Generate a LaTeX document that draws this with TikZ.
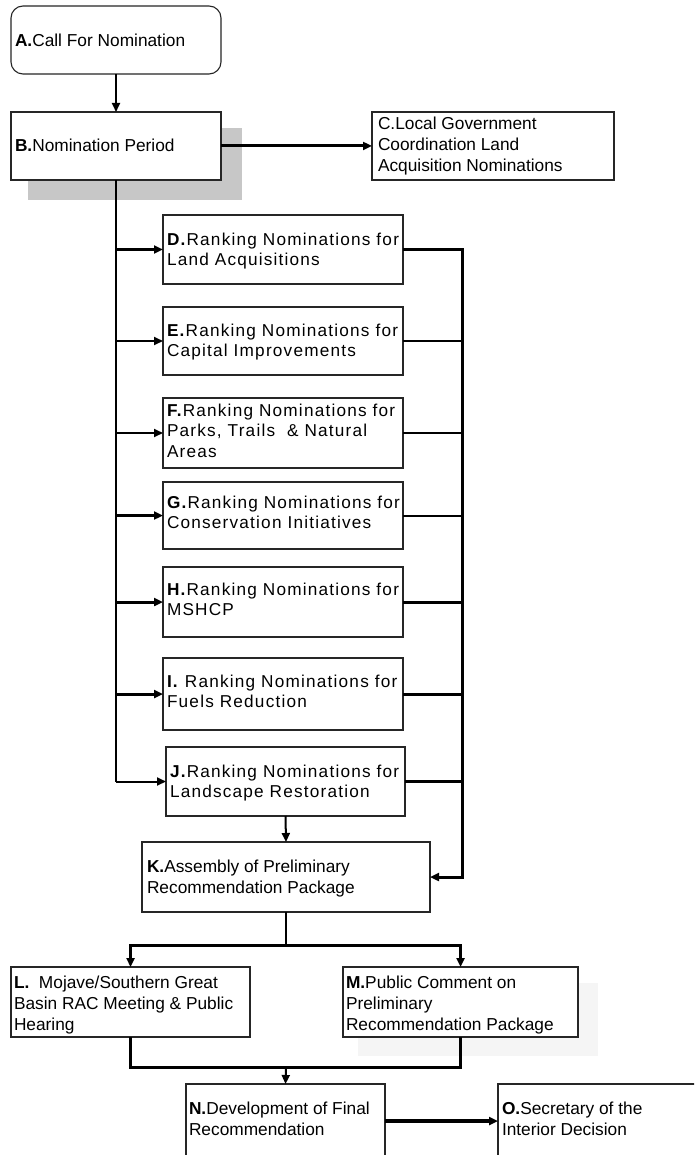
\documentclass[tikz,border=0pt]{standalone}
\usepackage{fontspec}
\setmainfont{Liberation Sans}
\newfontfamily\trackfont[LetterSpace=7]{Liberation Sans}
\usetikzlibrary{arrows.meta,calc}
\tikzset{
  box/.style={draw=black!85, line width=1.1pt, inner sep=0pt, outer sep=0pt, fill=white},
  txt/.style={inner sep=0pt, outer sep=0pt, align=left, font=\fontsize{17.3}{21}\selectfont},
  rtxt/.style={inner sep=0pt, outer sep=0pt, align=left, font=\fontsize{17.2}{20.5}\trackfont},
  conn/.style={line width=2pt, draw=black},
  thick conn/.style={line width=3pt, draw=black},
  arr/.style={-{Triangle[length=9pt,width=8pt]}},
  shadowbox/.style={fill=black!22, draw=none},
}
\begin{document}
\begin{tikzpicture}[x=1pt,y=-1pt]
\useasboundingbox (0,0) rectangle (694,1155);
\clip (0,0) rectangle (694,1155);
\fill[white] (0,0) rectangle (694,1155);

% shadows
\fill[shadowbox] (28,128) rectangle (242,200);
\fill[black!4] (358,983) rectangle (598,1056);

% boxes
\node[box, rounded corners=12pt, minimum width=210pt, minimum height=68pt] (A) at (116,40) {};
\node[box, minimum width=210pt, minimum height=68pt] (B) at (116,146) {};
\node[box, minimum width=242pt, minimum height=68pt] (C) at (493,146) {};
\node[box, minimum width=240pt, minimum height=69pt] (D) at (283,249.5) {};
\node[box, minimum width=240pt, minimum height=68pt] (E) at (283,341) {};
\node[box, minimum width=240pt, minimum height=70pt] (F) at (283,433) {};
\node[box, minimum width=240pt, minimum height=67pt] (G) at (283,515.5) {};
\node[box, minimum width=240pt, minimum height=70pt] (H) at (283,602) {};
\node[box, minimum width=240pt, minimum height=72pt] (I) at (283,694) {};
\node[box, minimum width=239pt, minimum height=69pt] (J) at (285.5,781.5) {};
\node[box, minimum width=288pt, minimum height=70pt] (K) at (286,877) {};
\node[box, minimum width=239pt, minimum height=70pt] (L) at (130.5,1002) {};
\node[box, minimum width=235pt, minimum height=70pt] (M) at (460.5,1002) {};
\node[box, minimum width=199pt, minimum height=74pt] (N) at (285.5,1121) {};
\node[box, minimum width=204pt, minimum height=74pt] (O) at (600,1121) {};

% texts (anchor base west = baseline of the last line)
\node[txt, anchor=base west] (At) at (15,47) {\textbf{A.}Call For Nomination};
\node[txt, anchor=base west] (Bt) at (15,152) {\textbf{B.}Nomination Period};
\node[txt, anchor=base west] (Ct) at (378,172) {C.Local Government\\Coordination Land\\Acquisition Nominations};
\node[rtxt, anchor=base west] (Dt) at (167,265.5) {\textbf{D.}Ranking Nominations for\\Land Acquisitions};
\node[rtxt, anchor=base west] (Et) at (167,356.5) {\textbf{E.}Ranking Nominations for\\Capital Improvements};
\node[rtxt, anchor=base west] (Ft) at (167,457) {\textbf{F.}Ranking Nominations for\\Parks, Trails\ \ \& Natural\\Areas};
\node[rtxt, anchor=base west] (Gt) at (167,528.5) {\textbf{G.}Ranking Nominations for\\Conservation Initiatives};
\node[rtxt, anchor=base west] (Ht) at (167,615.5) {\textbf{H.}Ranking Nominations for\\MSHCP};
\node[rtxt, anchor=base west] (It) at (167,707.5) {\textbf{I.} Ranking Nominations for\\Fuels Reduction};
\node[rtxt, anchor=base west] (Jt) at (170,797.5) {\textbf{J.}Ranking Nominations for\\Landscape Restoration};
\node[txt, anchor=base west] (Kt) at (147,893) {\textbf{K.}Assembly of Preliminary\\Recommendation Package};
\node[txt, anchor=base west] (Lt) at (14,1030) {\textbf{L.}\ \ Mojave/Southern Great\\Basin RAC Meeting \& Public\\Hearing};
\node[txt, anchor=base west] (Mt) at (346,1030) {\textbf{M.}Public Comment on\\Preliminary\\Recommendation Package};
\node[txt, anchor=base west] (Nt) at (189,1135) {\textbf{N.}Development of Final\\Recommendation};
\node[txt, anchor=base west] (Ot) at (502,1135) {\textbf{O.}Secretary of the\\Interior Decision};

% helper coordinates
\coordinate (bus) at (462,877);
\coordinate (sp) at (286,945);
\coordinate (jn) at (286,1067);

% connectors
\draw[conn, arr] (A.south) -- (B.north);
\draw[thick conn, arr] (B.east) -- (C.west);
\draw[conn] (B.south) -- (B.south |- J.west);
\draw[thick conn, arr] (B.south |- D.west) -- (D.west);
\draw[conn, arr] (B.south |- E.west) -- (E.west);
\draw[conn, arr] (B.south |- F.west) -- (F.west);
\draw[thick conn, arr] (B.south |- G.west) -- (G.west);
\draw[thick conn, arr] (B.south |- H.west) -- (H.west);
\draw[thick conn, arr] (B.south |- I.west) -- (I.west);
\draw[conn, arr] (B.south |- J.west) -- (J.west);

\draw[thick conn, arr] (D.east) -| (bus) -- (K.east);
\draw[conn] (E.east) -- (E.east -| bus);
\draw[conn] (F.east) -- (F.east -| bus);
\draw[conn] (G.east) -- (G.east -| bus);
\draw[thick conn] (H.east) -- (H.east -| bus);
\draw[thick conn] (I.east) -- (I.east -| bus);
\draw[thick conn] (J.east) -- (J.east -| bus);

\draw[conn, arr] (J.south) -- (K.north);
\draw[conn] (K.south) -- (sp);
\draw[thick conn, arr] (sp) -| (L.north);
\draw[thick conn, arr] (sp) -| (M.north);
\draw[thick conn] (L.south) |- (jn);
\draw[thick conn] (M.south) |- (jn);
\draw[conn, arr] (jn) -- (N.north);
\draw[thick conn, line width=3.5pt, arr] (N.east) -- (O.west);
\end{tikzpicture}
\end{document}
